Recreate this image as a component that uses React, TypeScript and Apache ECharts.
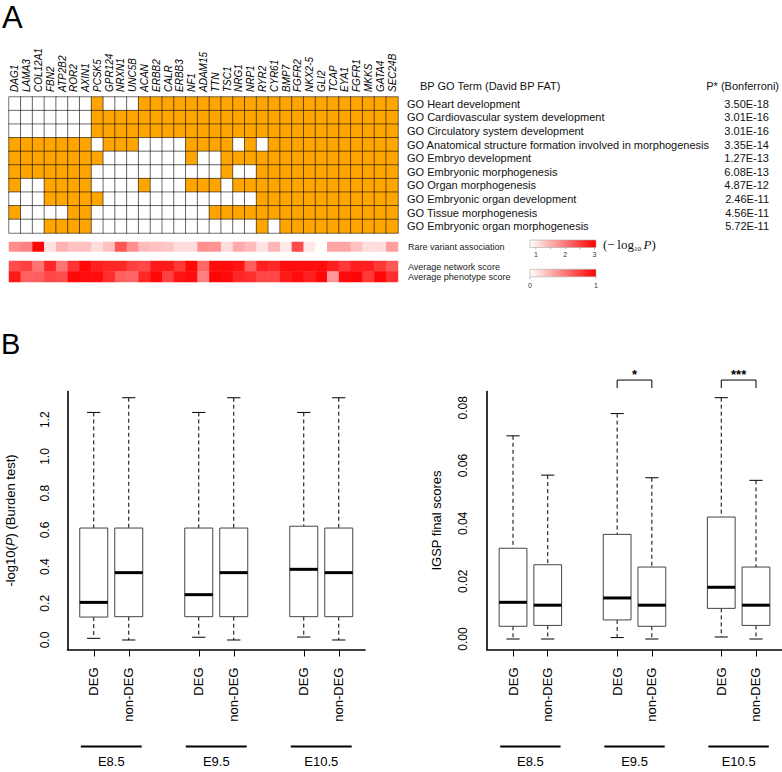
import React, { useEffect, useRef } from 'react';
import * as echarts from 'echarts';

// ---------- Panel A data ----------
const genes = ['DAG1', 'LAMA3', 'COL12A1', 'FBN2', 'ATP2B2', 'ROR2', 'AXIN1', 'PCSK5', 'GPR124', 'NRXN1', 'UNC5B', 'ACAN', 'ERBB2', 'CALR', 'ERBB3', 'NF1', 'ADAM15', 'TTN', 'TSC1', 'NRG1', 'NRP1', 'RYR2', 'CYR61', 'BMP7', 'FGFR2', 'NKX2-5', 'GLI2', 'TCAP', 'EYA1', 'FGFR1', 'MKKS', 'GATA4', 'SEC24B'];

const goTerms = [
  'GO Heart development',
  'GO Cardiovascular system development',
  'GO Circulatory system development',
  'GO Anatomical structure formation involved in morphogenesis',
  'GO Embryo development',
  'GO Embryonic morphogenesis',
  'GO Organ morphogenesis',
  'GO Embryonic organ development',
  'GO Tissue morphogenesis',
  'GO Embryonic organ morphogenesis',
];

const goPvalues = ['3.50E-18', '3.01E-16', '3.01E-16', '3.35E-14', '1.27E-13', '6.08E-13', '4.87E-12', '2.46E-11', '4.56E-11', '5.72E-11'];

// gene membership per GO term (1 = gene annotated to term)
const membership: number[][] = [
  [0, 0, 0, 0, 0, 0, 0, 1, 0, 0, 0, 1, 1, 1, 1, 1, 1, 1, 1, 1, 1, 1, 1, 1, 1, 1, 1, 1, 1, 1, 1, 1, 1],
  [0, 0, 0, 0, 0, 0, 0, 1, 1, 1, 1, 1, 1, 1, 1, 1, 1, 1, 1, 1, 1, 1, 1, 1, 1, 1, 1, 1, 1, 1, 1, 1, 1],
  [0, 0, 0, 0, 0, 0, 0, 1, 1, 1, 1, 1, 1, 1, 1, 1, 1, 1, 1, 1, 1, 1, 1, 1, 1, 1, 1, 1, 1, 1, 1, 1, 1],
  [1, 1, 1, 1, 1, 1, 1, 0, 1, 1, 1, 0, 0, 0, 0, 1, 1, 1, 1, 0, 1, 0, 1, 1, 1, 1, 1, 1, 1, 1, 1, 1, 1],
  [1, 1, 1, 1, 1, 1, 1, 1, 0, 0, 0, 0, 0, 0, 0, 1, 0, 0, 1, 1, 1, 1, 1, 1, 1, 1, 1, 1, 1, 1, 1, 1, 1],
  [1, 1, 1, 1, 1, 1, 1, 0, 0, 0, 0, 0, 0, 0, 0, 0, 0, 0, 1, 0, 0, 1, 1, 1, 1, 1, 1, 1, 1, 1, 1, 1, 1],
  [1, 0, 0, 1, 1, 1, 1, 0, 0, 0, 0, 1, 0, 0, 0, 1, 1, 1, 0, 1, 1, 1, 1, 1, 1, 1, 1, 1, 1, 1, 1, 1, 1],
  [0, 0, 0, 1, 1, 1, 1, 1, 0, 0, 0, 0, 0, 0, 0, 0, 0, 0, 0, 0, 0, 1, 1, 1, 1, 1, 1, 1, 1, 1, 1, 1, 1],
  [1, 0, 0, 0, 0, 1, 1, 0, 0, 0, 0, 0, 0, 0, 0, 0, 0, 1, 1, 1, 1, 1, 1, 1, 1, 1, 1, 1, 1, 1, 1, 1, 1],
  [0, 0, 0, 1, 1, 1, 1, 0, 0, 0, 0, 0, 0, 0, 0, 0, 0, 0, 0, 0, 0, 1, 0, 1, 1, 1, 1, 1, 1, 1, 1, 1, 1],
];

// rare variant association (-log10 P)
const rareVariant = [1.8, 1.9, 3.0, 1.05, 1.5, 1.35, 1.35, 1.1, 1.35, 2.3, 1.8, 1.4, 1.35, 1.3, 1.1, 1.1, 1.8, 1.75, 1.1, 1.55, 1.4, 1.05, 1.45, 1.0, 2.4, 1.0, 0.8, 1.6, 1.6, 1.35, 1.1, 1.1, 1.65];
const networkScore = [0.7, 0.75, 0.55, 0.85, 0.55, 0.8, 0.97, 0.88, 0.85, 0.85, 0.75, 0.72, 0.9, 0.9, 0.78, 0.97, 0.6, 0.95, 0.95, 0.93, 0.63, 0.88, 0.85, 0.95, 0.95, 0.95, 0.95, 0.88, 0.78, 0.88, 0.88, 0.78, 0.65];
const phenotypeScore = [0.9, 0.62, 0.63, 0.72, 0.7, 0.97, 0.95, 0.95, 0.82, 0.62, 0.6, 0.85, 0.97, 0.75, 0.92, 0.95, 0.5, 0.98, 0.96, 0.85, 0.82, 0.72, 0.72, 0.9, 0.95, 0.88, 0.97, 0.4, 0.96, 0.98, 0.78, 0.97, 0.82];
const scoreRowNames = ['Average network score', 'Average phenotype score'];
const rareTicks = [1, 2, 3];
const scoreTicks = [0, 1];
const rareRange = [0.8, 3.05];

// ---------- Panel B data ----------
const boxPositions = [1, 2, 4, 5, 7, 8];
const boxLabels = ['DEG', 'non-DEG', 'DEG', 'non-DEG', 'DEG', 'non-DEG'];
const stages = ['E8.5', 'E9.5', 'E10.5'];
const stageCenters = [1.5, 4.5, 7.5];
// [min, Q1, median, Q3, max]
const burdenStats = [
  [0.009, 0.125, 0.205, 0.61, 1.24],
  [0.0, 0.127, 0.367, 0.61, 1.32],
  [0.015, 0.127, 0.247, 0.61, 1.24],
  [0.0, 0.127, 0.367, 0.61, 1.32],
  [0.016, 0.127, 0.385, 0.62, 1.24],
  [0.0, 0.127, 0.367, 0.61, 1.32],
];
const igspStats = [
  [0.0, 0.0044, 0.0127, 0.0314, 0.0703],
  [0.0, 0.0047, 0.0117, 0.0257, 0.0567],
  [0.0005, 0.0066, 0.0142, 0.0362, 0.078],
  [0.0, 0.0044, 0.0117, 0.0249, 0.0558],
  [0.0007, 0.0106, 0.0179, 0.0422, 0.0835],
  [0.0, 0.0047, 0.0117, 0.0249, 0.0549],
];
const burdenTicks = [0, 0.2, 0.4, 0.6, 0.8, 1.0, 1.2];
const igspTicks = [0, 0.02, 0.04, 0.06, 0.08];
const significance = [
  { from: 4, to: 5, y: 0.0896, label: '*' },
  { from: 7, to: 8, y: 0.0896, label: '***' },
];

const SANS = 'Liberation Sans, Arial, Helvetica, sans-serif';
const SERIF = 'Liberation Serif, Times New Roman, serif';

const burdenRange = [-0.0518, 1.354];
const igspRange = [-0.00363, 0.08564];

function renderBox(params: any, api: any) {
  const x = api.value(0);
  const mn = api.value(1), q1 = api.value(2), md = api.value(3), q3 = api.value(4), mx = api.value(5);
  const pMin = api.coord([x, mn]);
  const pQ1 = api.coord([x, q1]);
  const pMd = api.coord([x, md]);
  const pQ3 = api.coord([x, q3]);
  const pMax = api.coord([x, mx]);
  const half = api.size([0.4, 0])[0];
  const cap = api.size([0.19, 0])[0];
  const cx = pMd[0];
  const black = '#000';
  return {
    type: 'group',
    children: [
      { type: 'line', shape: { x1: cx, y1: pMax[1], x2: cx, y2: pQ3[1] }, style: { stroke: black, lineWidth: 1, lineDash: [4, 3] } },
      { type: 'line', shape: { x1: cx, y1: pQ1[1], x2: cx, y2: pMin[1] }, style: { stroke: black, lineWidth: 1, lineDash: [4, 3] } },
      { type: 'line', shape: { x1: cx - cap, y1: pMax[1], x2: cx + cap, y2: pMax[1] }, style: { stroke: black, lineWidth: 1 } },
      { type: 'line', shape: { x1: cx - cap, y1: pMin[1], x2: cx + cap, y2: pMin[1] }, style: { stroke: black, lineWidth: 1 } },
      { type: 'rect', shape: { x: cx - half, y: pQ3[1], width: half * 2, height: pQ1[1] - pQ3[1] }, style: { fill: '#fff', stroke: '#444', lineWidth: 1 } },
      { type: 'line', shape: { x1: cx - half, y1: pMd[1], x2: cx + half, y2: pMd[1] }, style: { stroke: black, lineWidth: 3 } },
    ],
  };
}

function makeStageRender(yMin: number) {
  return (params: any, api: any) => {
    const x = api.value(0);
    const p = api.coord([x, yMin]);
    const pl = api.coord([x - 0.87, yMin]);
    const pr = api.coord([x + 0.87, yMin]);
    const y = p[1] + 97;
    return {
      type: 'group',
      children: [
        { type: 'line', shape: { x1: pl[0], y1: y, x2: pr[0], y2: y }, style: { stroke: '#000', lineWidth: 2 } },
        { type: 'text', x: p[0], y: y + 15, style: { text: stages[params.dataIndex], fontSize: 13, fontFamily: SANS, fill: '#000', align: 'center', verticalAlign: 'middle' } },
      ],
    };
  };
}

function renderSig(params: any, api: any) {
  const a = api.coord([api.value(0), api.value(2)]);
  const b = api.coord([api.value(1), api.value(2)]);
  return {
    type: 'group',
    children: [
      { type: 'polyline', shape: { points: [[a[0], a[1] + 8], [a[0], a[1]], [b[0], b[1]], [b[0], b[1] + 8]] }, style: { stroke: '#000', lineWidth: 1, fill: null } },
      { type: 'text', x: (a[0] + b[0]) / 2, y: a[1] - 6, style: { text: significance[params.dataIndex].label, fontSize: 13, fontWeight: 'bold', fontFamily: SANS, fill: '#000', align: 'center', verticalAlign: 'middle' } },
    ],
  };
}

// gene names written above their heatmap columns, upward from the grid top
function renderGeneLabel(params: any, api: any) {
  const c = api.value(0);
  const p = api.coord([c, 0]);
  const bandH = api.size([0, 1])[1];
  return {
    type: 'text',
    x: p[0],
    y: p[1] - bandH / 2 - 5,
    rotation: Math.PI / 2,
    style: {
      text: genes[params.dataIndex], fontSize: 10, fontStyle: 'italic', fontFamily: SANS, fill: '#000',
      align: 'left', verticalAlign: 'middle',
    },
  };
}

export default function App() {
  const ref = useRef<HTMLDivElement>(null);

  useEffect(() => {
    if (!ref.current) return;
    const chart = echarts.init(ref.current, null, { renderer: 'svg' });

    const matrixCells: number[][] = [];
    membership.forEach((row, r) => row.forEach((v, c) => matrixCells.push([c, r, v])));
    const rareCells = rareVariant.map((v, c) => [c, 0, v]);
    const scoreCells: number[][] = [];
    networkScore.forEach((v, c) => scoreCells.push([c, 0, v]));
    phenotypeScore.forEach((v, c) => scoreCells.push([c, 1, v]));

    // legend geometry
    const lgX = 530, lgW = 66;
    const rareX = (v: number) => lgX + ((v - rareRange[0]) / (rareRange[1] - rareRange[0])) * lgW;
    const scoreX = (v: number) => lgX + v * lgW;
    const grad = () => new echarts.graphic.LinearGradient(0, 0, 1, 0, [
      { offset: 0, color: '#ffffff' },
      { offset: 1, color: '#ff0000' },
    ]);

    const graphics: any[] = [
      { type: 'text', x: 2, y: 17, style: { text: 'A', fontSize: 31, fontFamily: SANS, fill: '#000', verticalAlign: 'middle' } },
      { type: 'text', x: 1, y: 344, style: { text: 'B', fontSize: 29, fontFamily: SANS, fill: '#000', verticalAlign: 'middle' } },
      { type: 'text', x: 420, y: 86, style: { text: 'BP GO Term (David BP FAT)', fontSize: 11, fontFamily: SANS, fill: '#111', verticalAlign: 'middle' } },
      { type: 'text', x: 779, y: 86, style: { text: 'P* (Bonferroni)', fontSize: 11, fontFamily: SANS, fill: '#111', align: 'right', verticalAlign: 'middle' } },
      { type: 'rect', shape: { x: lgX, y: 240, width: lgW, height: 7.5 }, style: { fill: grad(), stroke: '#aaa', lineWidth: 0.6 } },
      { type: 'rect', shape: { x: lgX, y: 269.3, width: lgW, height: 7.5 }, style: { fill: grad(), stroke: '#aaa', lineWidth: 0.6 } },
      {
        type: 'text', x: 603, y: 244,
        style: {
          text: '{p|(−\u2009log}{s|10}{i|\u2009P}{p|)}',
          verticalAlign: 'middle',
          rich: {
            p: { fontFamily: SERIF, fontSize: 13, fill: '#111', lineHeight: 16 },
            s: { fontFamily: SERIF, fontSize: 7, fill: '#111', lineHeight: 16, verticalAlign: 'bottom' },
            i: { fontFamily: SERIF, fontSize: 13, fontStyle: 'italic', fill: '#111', lineHeight: 16 },
          },
        },
      },
    ];
    [1, 1.5, 2, 2.5, 3].forEach((v) => {
      graphics.push({ type: 'line', shape: { x1: rareX(v), y1: 247.5, x2: rareX(v), y2: 249.5 }, style: { stroke: '#888', lineWidth: 0.6 } });
    });
    rareTicks.forEach((v) => {
      graphics.push({ type: 'text', x: rareX(v), y: 254.5, style: { text: String(v), fontSize: 7, fontFamily: SANS, fill: '#333', align: 'center', verticalAlign: 'middle' } });
    });
    scoreTicks.forEach((v) => {
      graphics.push({ type: 'line', shape: { x1: scoreX(v), y1: 276.8, x2: scoreX(v), y2: 278.8 }, style: { stroke: '#888', lineWidth: 0.6 } });
      graphics.push({ type: 'text', x: scoreX(v), y: 285.5, style: { text: String(v), fontSize: 7, fontFamily: SANS, fill: '#333', align: 'center', verticalAlign: 'middle' } });
    });

    const hiddenCat = (gridIndex: number, data: string[]) => ({
      type: 'category', gridIndex, data, show: false,
    });

    const boxXAxis = (gridIndex: number) => ({
      type: 'value', gridIndex, min: 0.25, max: 8.75,
      splitLine: { show: false },
      axisLine: { show: true, onZero: false, lineStyle: { color: '#000', width: 1.6 } },
      axisTick: { show: true, customValues: boxPositions, length: 7, lineStyle: { color: '#000', width: 1 } },
      axisLabel: {
        customValues: boxPositions, rotate: 90, margin: 18, fontSize: 13, fontFamily: SANS, color: '#000',
        formatter: (v: number) => { const i = boxPositions.indexOf(v); return i >= 0 ? boxLabels[i] : ''; },
      },
    });

    const boxYAxis = (gridIndex: number, range: number[], ticks: number[], digits: number, name: string, nameGap: number, margin: number) => ({
      type: 'value', gridIndex, min: range[0], max: range[1],
      splitLine: { show: false },
      axisLine: { show: true, onZero: false, lineStyle: { color: '#000', width: 1.6 } },
      axisTick: { show: false },
      axisLabel: {
        customValues: ticks, rotate: 90, margin, fontSize: 12, fontFamily: SANS, color: '#000',
        formatter: (v: number) => v.toFixed(digits),
      },
      name, nameLocation: 'middle', nameRotate: 90, nameGap,
      nameTextStyle: {
        fontSize: 13, fontFamily: SANS, color: '#000',
        rich: {
          a: { fontSize: 13, fontFamily: SANS, color: '#000' },
          i: { fontSize: 13, fontFamily: SANS, color: '#000', fontStyle: 'italic' },
        },
      },
    });

    const option: any = {
      animation: false,
      backgroundColor: '#ffffff',
      textStyle: { fontFamily: SANS },
      grid: [
        { left: 9, top: 97, width: 389, height: 136 },
        { left: 9, top: 242, width: 389, height: 9.5 },
        { left: 9, top: 261, width: 389, height: 21 },
        { left: 67.5, top: 391.5, width: 297.5, height: 258 },
        { left: 487, top: 391.5, width: 297.5, height: 258 },
      ],
      xAxis: [
        {
          type: 'category', gridIndex: 0, data: genes, position: 'top',
          axisLine: { show: false }, axisTick: { show: false }, splitLine: { show: false },
          axisLabel: { show: false },
        },
        hiddenCat(1, genes),
        hiddenCat(2, genes),
        boxXAxis(3),
        boxXAxis(4),
      ],
      yAxis: [
        {
          type: 'category', gridIndex: 0, data: goTerms, inverse: true, position: 'right',
          axisLine: { show: false }, axisTick: { show: false },
          axisLabel: { interval: 0, margin: 9, fontSize: 11, color: '#111', fontFamily: SANS },
        },
        {
          type: 'category', gridIndex: 0, data: goPvalues, inverse: true, position: 'right',
          axisLine: { show: false }, axisTick: { show: false },
          axisLabel: { interval: 0, margin: 371, align: 'right', fontSize: 11, color: '#111', fontFamily: SANS },
        },
        {
          type: 'category', gridIndex: 1, data: ['Rare variant association'], position: 'right',
          axisLine: { show: false }, axisTick: { show: false },
          axisLabel: { interval: 0, margin: 10, fontSize: 9, color: '#222', fontFamily: SANS },
        },
        {
          type: 'category', gridIndex: 2, data: scoreRowNames, inverse: true, position: 'right',
          axisLine: { show: false }, axisTick: { show: false },
          axisLabel: {
            interval: 0, margin: 10, fontSize: 9, color: '#222', fontFamily: SANS,
            formatter: (v: string, i: number) => (i === 0 ? `{a|${v}}` : `{b|${v}}`),
            rich: {
              a: { fontSize: 9, fontFamily: SANS, color: '#222', padding: [2, 0, 0, 0] },
              b: { fontSize: 9, fontFamily: SANS, color: '#222' },
            },
          },
        },
        boxYAxis(3, burdenRange, burdenTicks, 1, '{a|-log10(}{i|P}{a|) (Burden test)}', 51, 17),
        boxYAxis(4, igspRange, igspTicks, 2, 'IGSP final scores', 44, 18),
      ],
      visualMap: [
        { type: 'piecewise', show: false, seriesIndex: 0, dimension: 2, pieces: [{ value: 0, color: '#ffffff' }, { value: 1, color: '#FFA500' }] },
        { type: 'continuous', show: false, seriesIndex: 1, dimension: 2, min: rareRange[0], max: rareRange[1], inRange: { color: ['#ffffff', '#ff0000'] } },
        { type: 'continuous', show: false, seriesIndex: 2, dimension: 2, min: 0, max: 1, inRange: { color: ['#ffffff', '#ff0000'] } },
      ],
      series: [
        {
          type: 'heatmap', xAxisIndex: 0, yAxisIndex: 0, data: matrixCells,
          itemStyle: { borderColor: 'rgba(0,0,0,0.55)', borderWidth: 1 },
          emphasis: { disabled: true },
        },
        {
          type: 'heatmap', xAxisIndex: 1, yAxisIndex: 2, data: rareCells,
          itemStyle: { borderWidth: 0 }, emphasis: { disabled: true },
        },
        {
          type: 'heatmap', xAxisIndex: 2, yAxisIndex: 3, data: scoreCells,
          itemStyle: { borderWidth: 0 }, emphasis: { disabled: true },
        },
        {
          type: 'custom', xAxisIndex: 3, yAxisIndex: 4, clip: false,
          data: burdenStats.map((s, i) => [boxPositions[i], ...s]),
          renderItem: renderBox,
        },
        {
          type: 'custom', xAxisIndex: 4, yAxisIndex: 5, clip: false,
          data: igspStats.map((s, i) => [boxPositions[i], ...s]),
          renderItem: renderBox,
        },
        {
          type: 'custom', xAxisIndex: 3, yAxisIndex: 4, clip: false,
          data: stageCenters.map((c) => [c, burdenRange[0]]),
          renderItem: makeStageRender(burdenRange[0]),
        },
        {
          type: 'custom', xAxisIndex: 4, yAxisIndex: 5, clip: false,
          data: stageCenters.map((c) => [c, igspRange[0]]),
          renderItem: makeStageRender(igspRange[0]),
        },
        {
          type: 'custom', xAxisIndex: 4, yAxisIndex: 5, clip: false,
          data: significance.map((s) => [s.from, s.to, s.y]),
          renderItem: renderSig,
        },
        {
          type: 'custom', xAxisIndex: 0, yAxisIndex: 0, clip: false,
          data: genes.map((g, i) => [i, 0]),
          renderItem: renderGeneLabel,
        },
      ],
      graphic: graphics,
    };

    chart.setOption(option);
    return () => chart.dispose();
  }, []);

  return <div ref={ref} style={{ position: 'absolute', left: 0, top: 0, width: 782, height: 772, background: '#fff' }} />;
}
